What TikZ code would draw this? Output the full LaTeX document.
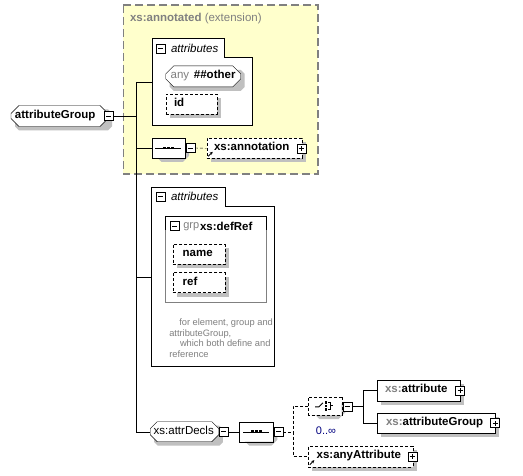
\documentclass[tikz,border=0pt]{standalone}
\usepackage{fontspec}
\setmainfont{Liberation Sans}
\usetikzlibrary{shapes.misc,arrows.meta,calc}
\definecolor{yel}{RGB}{255,255,204}
\definecolor{brd}{RGB}{128,128,128}
\definecolor{shdc}{RGB}{192,192,192}
\definecolor{gtx}{RGB}{128,128,128}
\definecolor{occ}{RGB}{0,0,128}
\pgfdeclarelayer{base}
\pgfdeclarelayer{shd}
\pgfsetlayers{base,shd,main}
\newcommand{\tb}[2]{\makebox[#1][l]{\strut#2}}
\newcommand{\gt}[1]{\textcolor{gtx}{#1}}
\newcommand{\recsh}[1]{\begin{pgfonlayer}{shd}\fill[shdc] ($(#1.west|-#1.north)+(4,4)$) rectangle ($(#1.east|-#1.south)+(4,4)$);\end{pgfonlayer}}
\newcommand{\octsh}[2]{\begin{pgfonlayer}{shd}\fill[shdc]
 ($(#1.west|-#1.north)+(4+#2,4)$) -- ($(#1.east|-#1.north)+(4-#2,4)$) -- ($(#1.east|-#1.north)+(4,4+#2)$) --
 ($(#1.east|-#1.south)+(4,4-#2)$) -- ($(#1.east|-#1.south)+(4-#2,4)$) -- ($(#1.west|-#1.south)+(4+#2,4)$) --
 ($(#1.west|-#1.south)+(4,4-#2)$) -- ($(#1.west|-#1.north)+(4,4+#2)$) -- cycle;\end{pgfonlayer}}
\begin{document}
\begin{tikzpicture}[x=1pt,y=-1pt,line width=1pt,
  every node/.style={font=\fontsize{11.5}{13}\selectfont, outer sep=0pt},
  elem/.style={draw,fill=white,inner sep=0pt,font=\fontsize{11.5}{13}\selectfont\bfseries},
  oct/.style={chamfered rectangle,chamfered rectangle xsep=#1,chamfered rectangle ysep=#1},
  opt/.style={dash pattern=on 3pt off 2pt},
  wh/.style 2 args={minimum width=#1,minimum height=#2},
  mbox/.style={draw,fill=white,minimum size=9pt,inner sep=0pt,
    path picture={\draw[line width=0.9pt] ([xshift=2pt]path picture bounding box.west) -- ([xshift=-2pt]path picture bounding box.east);}},
  pbox/.style={draw,fill=white,minimum size=9pt,inner sep=0pt,
    path picture={\draw[line width=0.9pt] ([xshift=2pt]path picture bounding box.west) -- ([xshift=-2pt]path picture bounding box.east);
                  \draw[line width=0.9pt] ([yshift=2pt]path picture bounding box.south) -- ([yshift=-2pt]path picture bounding box.north);}},
  lbl/.style={anchor=west,inner sep=0pt},
  refarrow/.style={-{Stealth[length=3pt,width=3pt]},line width=0.9pt}
]
\useasboundingbox (0,0) rectangle (523,476);
\begin{pgfonlayer}{base}
\fill[white] (0,0) rectangle (523,476);
% extension box
\draw[brd,fill=yel,dash pattern=on 8pt off 4pt,line width=1.2pt] (123.3,5) rectangle (318,174);
% attributes box 1
\draw[fill=white] (151.7,38.3) -- (224,38.3) -- (224,57.3) -- (252.3,57.3) -- (252.3,125.3) -- (151.7,125.3) -- cycle;
% attributes box 2
\draw[fill=white] (150.7,187.3) -- (225,187.3) -- (225,206) -- (274,206) -- (274,366.7) -- (150.7,366.7) -- cycle;
% group defRef
\draw[gtx] (165,216) rectangle (266,302.7);
\draw (165,230) -- (165,216) -- (266,216) -- (266,230);
\end{pgfonlayer}

\node[lbl,text=gtx] (ttl) at (130,19) {\textbf{xs:annotated} (extension)};

\coordinate (a1) at (151.7,82);
\node[mbox] (a1m) at (160.8,48.7) {};
\node[lbl,font=\fontsize{11.5}{13}\selectfont\itshape] (a1t) at (171,48.5) {attributes};

\node[elem,oct=4pt,wh={75pt}{19.3pt}] (any) at (203.2,76.35) {\tb{65pt}{\mdseries\gt{any}\hspace{1.5pt} \bfseries\#\#other}};
\octsh{any}{4}
\node[elem,opt,wh={51pt}{20pt}] (id) at (191.2,104.3) {\tb{34.4pt}{id}};
\recsh{id}

% root
\node[elem,oct=4pt,wh={97pt}{20pt}] (ag) at (59.5,116) {\tb{89pt}{attributeGroup}};
\octsh{ag}{4}
\node[mbox] (agm) at ([xshift=0.5pt]ag.east) {};

% sequence 1 and annotation
\node[elem,oct=6pt,wh={33.3pt}{20pt}] (s1) at (168.35,148) {};
\octsh{s1}{6}
\draw ([xshift=-13pt]s1.center) -- ([xshift=13pt]s1.center);
\draw[line width=2.6pt,dash pattern=on 2.6pt off 1.4pt] ([xshift=-5.3pt]s1.center) -- ([xshift=5.4pt]s1.center);
\node[mbox] (s1m) at (190.3,148) {};
\node[elem,opt,wh={95pt}{20pt}] (ann) at (254.2,148.3) {\tb{80.4pt}{xs:annotation}};
\recsh{ann}
\node[pbox] (annp) at ([xshift=-0.5pt]ann.east) {};
\draw[refarrow] ([xshift=1.5pt,yshift=2pt]ann.south west) -- ++(4.5,-4.5);

\coordinate (a2) at (150.7,277.3);
\node[mbox] (a2m) at (160.5,196.7) {};
\node[lbl,font=\fontsize{11.5}{13}\selectfont\itshape] (a2t) at (171,196.5) {attributes};

\node[mbox] (gm) at (174.5,226.2) {};
\node[lbl,text=gtx,font=\fontsize{11}{13}\selectfont] (grp) at (183.3,226.2) {grp};
\node[lbl,font=\fontsize{11.5}{13}\selectfont\bfseries] (dref) at (200,226.2) {xs:defRef};
\node[elem,opt,wh={52.3pt}{20pt}] (name) at (198.85,254.3) {\tb{32.3pt}{name}};
\recsh{name}
\node[elem,opt,wh={52.3pt}{20pt}] (ref) at (198.85,282.7) {\tb{32.3pt}{ref}};
\recsh{ref}
\node[anchor=north west,inner sep=0pt,text=gtx,font=\fontsize{9.3}{10.8}\selectfont,align=left] (cmt) at (169.3,318.5)
  {\hspace*{10pt}for element, group and\\attributeGroup,\\\hspace*{10.7pt}which both define and\\reference};

% attrDecls
\node[elem,oct=3.5pt,wh={67.6pt}{20pt},font=\fontsize{11.5}{13}\selectfont] (ad) at (184.5,431.7) {\tb{61.6pt}{xs:attrDecls}};
\octsh{ad}{3.5}
\node[mbox] (adm) at (223.7,431.7) {};
\node[elem,oct=6pt,wh={34pt}{20pt}] (s2) at (256.3,431.7) {};
\octsh{s2}{6}
\draw ([xshift=-13pt]s2.center) -- ([xshift=13pt]s2.center);
\draw[line width=2.6pt,dash pattern=on 2.6pt off 1.4pt] ([xshift=-5.3pt]s2.center) -- ([xshift=5.4pt]s2.center);
\node[mbox] (s2m) at (278.7,431.7) {};

% choice
\node[elem,opt,oct=7pt,wh={33.4pt}{18.3pt}] (ch) at (325,405.85) {};
\octsh{ch}{7}
\draw[line width=0.9pt] ([shift={(-10,1)}]ch.center) -- ([shift={(-6,1)}]ch.center) -- ([shift={(-2,-3)}]ch.center);
\foreach \dy in {-3.5,0,3.5}
  \fill ([shift={(-0.5,\dy-1.25)}]ch.center) rectangle ([shift={(2,\dy+1.25)}]ch.center);
\draw[line width=0.9pt] ([shift={(3,-3.5)}]ch.center) -- ([shift={(5,-3.5)}]ch.center) -- ([shift={(5,3.5)}]ch.center) -- ([shift={(3,3.5)}]ch.center);
\draw[line width=0.9pt] ([shift={(5,0)}]ch.center) -- ([shift={(8,0)}]ch.center);
\node[mbox] (chm) at (347.7,406.5) {};
\node[text=occ,font=\fontsize{11}{13}\selectfont,inner sep=0pt] (occ) at (326,430.5) {0..∞};

\node[elem,wh={82.7pt}{20.7pt}] (at) at (418.65,390.35) {\tb{67.3pt}{\gt{xs:}attribute}};
\recsh{at}
\node[pbox] (atp) at (at.east) {};
\node[elem,wh={117.7pt}{20.6pt}] (atg) at (436.15,423) {\tb{100.3pt}{\gt{xs:}attributeGroup}};
\recsh{atg}
\node[pbox] (atgp) at (atg.east) {};
\node[elem,opt,wh={104.4pt}{20.7pt}] (anyA) at (360.5,456.35) {\tb{87.6pt}{xs:anyAttribute}};
\recsh{anyA}
\node[pbox] (anyAp) at ([xshift=-0.5pt]anyA.east) {};
\draw[refarrow] ([xshift=1.5pt,yshift=2pt]anyA.south west) -- ++(4.5,-4.5);

% connectors
\coordinate (t1) at (136,82);
\coordinate (t2) at (136,148);
\coordinate (t3) at (136,277.3);
\draw (agm.east) -- (agm.east -| t1);
\draw (t1) |- (ad.west);
\draw (t1) -- (a1);
\draw (t2) -- (s1.west);
\draw (t3) -- (a2);
\draw[opt] (s1m.east) -- (ann.west);
\draw (adm.east) -- (s2.west);
\coordinate (c1) at (293.3,431.7);
\draw[opt] (s2m.east) -- (c1);
\draw[opt] (ch.west) -| (c1);
\draw[opt] (c1) |- (anyA.west);
\coordinate (c2) at (362.7,406.5);
\draw (chm.east) -- (c2);
\draw (at.west) -| (c2);
\draw (atg.west) -| (c2);
\end{tikzpicture}
\end{document}
